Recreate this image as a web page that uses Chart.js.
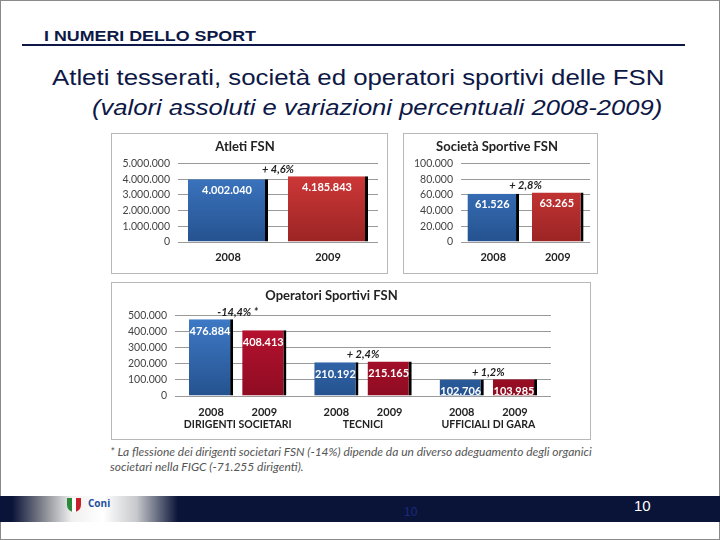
<!DOCTYPE html>
<html lang="it">
<head>
    <meta charset="UTF-8">
    <title>I numeri dello sport - FSN</title>
    <script src="https://cdn.jsdelivr.net/npm/chart.js"></script>
    <style>
        html, body { margin: 0; padding: 0; }
        body { width: 720px; height: 540px; position: relative; overflow: hidden; background: #fff; font-family: "Liberation Sans", Arial, sans-serif; }
        .slide { position: absolute; left: 0; top: 0; width: 718px; height: 538px; border: 1px solid #8a8a8a; }
        .header { position: absolute; left: 44px; top: 27px; font-size: 15.5px; font-weight: bold; color: #0d1846; transform: scaleX(1.15); transform-origin: left top; }
        .rule { position: absolute; left: 22px; top: 44px; width: 663px; height: 2px; background: #0d1846; }
        .title { position: absolute; left: 52px; top: 66px; font-size: 21.5px; color: #0d1846; white-space: nowrap; transform: scaleX(1.2); transform-origin: left top; }
        .subtitle { position: absolute; left: 92px; top: 96px; font-size: 21.5px; font-style: italic; color: #0d1846; white-space: nowrap; transform: scaleX(1.19); transform-origin: left top; }
        .panel { position: absolute; border: 1px solid #b8b8b8; background: #fff; }
        .panel canvas { display: block; }
        .note { position: absolute; left: 110px; top: 444px; font-family: Lato, sans-serif; font-style: italic; font-size: 12px; line-height: 15px; color: #555; white-space: nowrap; }
        .footer { position: absolute; left: 0; top: 496px; width: 720px; height: 26px; background: #0a1438; }
        .fade { position: absolute; left: 12px; top: 496px; width: 166px; height: 26px;
                background: linear-gradient(to right, #0a1438 0%, #8c8e96 20%, #f0f0f0 36%, #ffffff 55%, #c8c9cc 75%, #0a1438 100%); }
        .logo { position: absolute; left: 88px; top: 496px; font-family: "Open Sans", sans-serif; font-weight: bold; font-size: 10px; color: #1d4f9c; }
        .crest { position: absolute; left: 67px; top: 498px; width: 14px; height: 14px;
                 background: linear-gradient(to right, #2a8a3a 0 33%, #fff 33% 66%, #c8202a 66%); border-radius: 0 0 7px 7px; }
        .pg1 { position: absolute; left: 404px; top: 505px; font-size: 12px; color: #1a2a80; }
        .pg2 { position: absolute; left: 634px; top: 497px; font-size: 15px; color: #fff; }
    </style>
</head>
<body>
    <div class="slide"></div>
    <div class="header">I NUMERI DELLO SPORT</div>
    <div class="rule"></div>
    <div class="title">Atleti tesserati, società ed operatori sportivi delle FSN</div>
    <div class="subtitle">(valori assoluti e variazioni percentuali 2008-2009)</div>

    <div class="panel" style="left:111px; top:133px;"><canvas id="atletiChart" width="275" height="139"></canvas></div>
    <div class="panel" style="left:403px; top:133px;"><canvas id="societaChart" width="193" height="139"></canvas></div>
    <div class="panel" style="left:111px; top:282px;"><canvas id="operatoriChart" width="478" height="156"></canvas></div>

    <div class="note">* La flessione dei dirigenti societari FSN (-14%) dipende da un diverso adeguamento degli organici<br>societari nella FIGC (-71.255 dirigenti).</div>

    <div class="footer"></div>
    <div class="fade"></div>
    <div class="crest"></div>
    <div class="logo">Coni</div>
    <div class="pg1">10</div>
    <div class="pg2">10</div>

    <script>
        // dati
        const years = ['2008', '2009'];

        const atletiValues = [4002040, 4185843];
        const atletiChange = '+ 4,6%';
        const atletiMax = 5000000;
        const atletiStep = 1000000;

        const societaValues = [61526, 63265];
        const societaChange = '+ 2,8%';
        const societaMax = 100000;
        const societaStep = 20000;

        const operatoriCategories = ['DIRIGENTI SOCIETARI', 'TECNICI', 'UFFICIALI DI GARA'];
        const operatori2008 = [476884, 210192, 102706];
        const operatori2009 = [408413, 215165, 103985];
        const operatoriChange = ['-14,4% *', '+ 2,4%', '+ 1,2%'];
        const operatoriMax = 500000;
        const operatoriStep = 100000;

        Chart.defaults.font.family = 'Lato, "Open Sans", sans-serif';
        Chart.defaults.color = '#333';
        Chart.defaults.animation = false;

        // formato numeri con il punto delle migliaia
        function fmt(v) {
            return String(Math.round(v)).replace(/\B(?=(\d{3})+(?!\d))/g, '.');
        }

        function gradient(ctx, top, bottom) {
            const area = ctx.chart.chartArea;
            if (!area) return top;
            const g = ctx.chart.ctx.createLinearGradient(0, area.top, 0, area.bottom);
            g.addColorStop(0, top);
            g.addColorStop(1, bottom);
            return g;
        }
        const blue = ctx => gradient(ctx, '#3f7bc8', '#25528f');
        const red = ctx => gradient(ctx, '#d63b3b', '#9c2424');
        const crimson = ctx => gradient(ctx, '#bd1230', '#8e0c22');

        // etichette dei valori dentro le barre e variazioni percentuali
        const labelsPlugin = {
            id: 'barLabels',
            afterDatasetsDraw(chart, args, opts) {
                const c = chart.ctx;
                c.save();
                c.textAlign = 'center';
                c.textBaseline = 'middle';
                c.font = 'bold ' + opts.valueSize + 'px Lato, sans-serif';
                c.fillStyle = '#fff';
                chart.data.datasets.forEach((ds, di) => {
                    chart.getDatasetMeta(di).data.forEach((el, i) => {
                        c.fillText(fmt(ds.data[i]), el.x - 1, el.y + opts.valueOffset);
                    });
                });
                // variazioni
                c.font = 'italic bold 11px Lato, sans-serif';
                c.fillStyle = '#222';
                const metas = chart.data.datasets.map((d, di) => chart.getDatasetMeta(di).data);
                opts.changes.forEach((txt, i) => {
                    let a, b;
                    if (metas.length === 1) { a = metas[0][0]; b = metas[0][1]; }
                    else { a = metas[0][i]; b = metas[1][i]; }
                    const x = (a.x + b.x) / 2;
                    const y = Math.min(a.y, b.y) - 7;
                    c.fillText(txt, x, y);
                });
                // anni sotto le barre (grafico raggruppato)
                if (opts.years) {
                    c.font = 'bold 11px Lato, sans-serif';
                    c.fillStyle = '#222';
                    chart.data.datasets.forEach((ds, di) => {
                        chart.getDatasetMeta(di).data.forEach(el => {
                            c.fillText(ds.label, el.x, chart.chartArea.bottom + 16);
                        });
                    });
                }
                c.restore();
            }
        };

        function baseOptions(title, max, step, yWidth, pad, xHeight, tickPad, titlePad) {
            return {
                responsive: false,
                layout: { padding: { left: 0, right: pad.right, top: 0, bottom: 0 } },
                plugins: {
                    legend: { display: false },
                    tooltip: { enabled: false },
                    title: {
                        display: true, text: title, color: '#222',
                        font: { size: 13, weight: 'bold' },
                        padding: titlePad
                    }
                },
                scales: {
                    x: {
                        grid: { display: false, drawTicks: false },
                        border: { display: false },
                        ticks: { font: { size: 11, weight: 'bold' }, color: '#222', padding: tickPad, maxRotation: 0 },
                        afterFit: s => { s.height = xHeight; }
                    },
                    y: {
                        min: 0, max: max,
                        grid: { color: '#9a9a9a', drawTicks: false },
                        border: { display: false },
                        ticks: { stepSize: step, autoSkip: false, padding: 8, font: { size: 10.5 }, color: '#444', callback: v => fmt(v) },
                        afterFit: s => { s.width = yWidth; }
                    }
                }
            };
        }

        const shadow = { top: 0, left: 0, bottom: 0, right: 3 };

        const atletiOpts = baseOptions('Atleti FSN', atletiMax, atletiStep, 66, { right: 9 }, 31, 9, { top: 5, bottom: 9 });
        atletiOpts.plugins.barLabels = { valueSize: 11, valueOffset: 11, changes: [atletiChange] };
        new Chart(document.getElementById('atletiChart'), {
            type: 'bar',
            data: {
                labels: years,
                datasets: [{
                    data: atletiValues,
                    backgroundColor: ctx => ctx.dataIndex === 0 ? blue(ctx) : red(ctx),
                    borderColor: '#000', borderWidth: shadow, borderSkipped: false,
                    barPercentage: 0.8, categoryPercentage: 1
                }]
            },
            options: atletiOpts,
            plugins: [labelsPlugin]
        });

        const societaOpts = baseOptions('Società Sportive FSN', societaMax, societaStep, 57, { right: 7 }, 31, 9, { top: 5, bottom: 9 });
        societaOpts.plugins.barLabels = { valueSize: 11, valueOffset: 11, changes: [societaChange] };
        new Chart(document.getElementById('societaChart'), {
            type: 'bar',
            data: {
                labels: years,
                datasets: [{
                    data: societaValues,
                    backgroundColor: ctx => ctx.dataIndex === 0 ? blue(ctx) : red(ctx),
                    borderColor: '#000', borderWidth: shadow, borderSkipped: false,
                    barPercentage: 0.8, categoryPercentage: 1
                }]
            },
            options: societaOpts,
            plugins: [labelsPlugin]
        });

        const operatoriOpts = baseOptions('Operatori Sportivi FSN', operatoriMax, operatoriStep, 63, { right: 39 }, 43, 22, { top: 5, bottom: 12 });
        operatoriOpts.plugins.barLabels = { valueSize: 11, valueOffset: 12, changes: operatoriChange, years: true };
        operatoriOpts.scales.x.ticks.font = { size: 10.5, weight: 'bold' };
        new Chart(document.getElementById('operatoriChart'), {
            type: 'bar',
            data: {
                labels: operatoriCategories,
                datasets: [
                    { label: years[0], data: operatori2008, backgroundColor: blue,
                      borderColor: '#000', borderWidth: shadow, borderSkipped: false,
                      barPercentage: 0.83, categoryPercentage: 0.85 },
                    { label: years[1], data: operatori2009, backgroundColor: crimson,
                      borderColor: '#000', borderWidth: shadow, borderSkipped: false,
                      barPercentage: 0.83, categoryPercentage: 0.85 }
                ]
            },
            options: operatoriOpts,
            plugins: [labelsPlugin]
        });
    </script>
</body>
</html>
